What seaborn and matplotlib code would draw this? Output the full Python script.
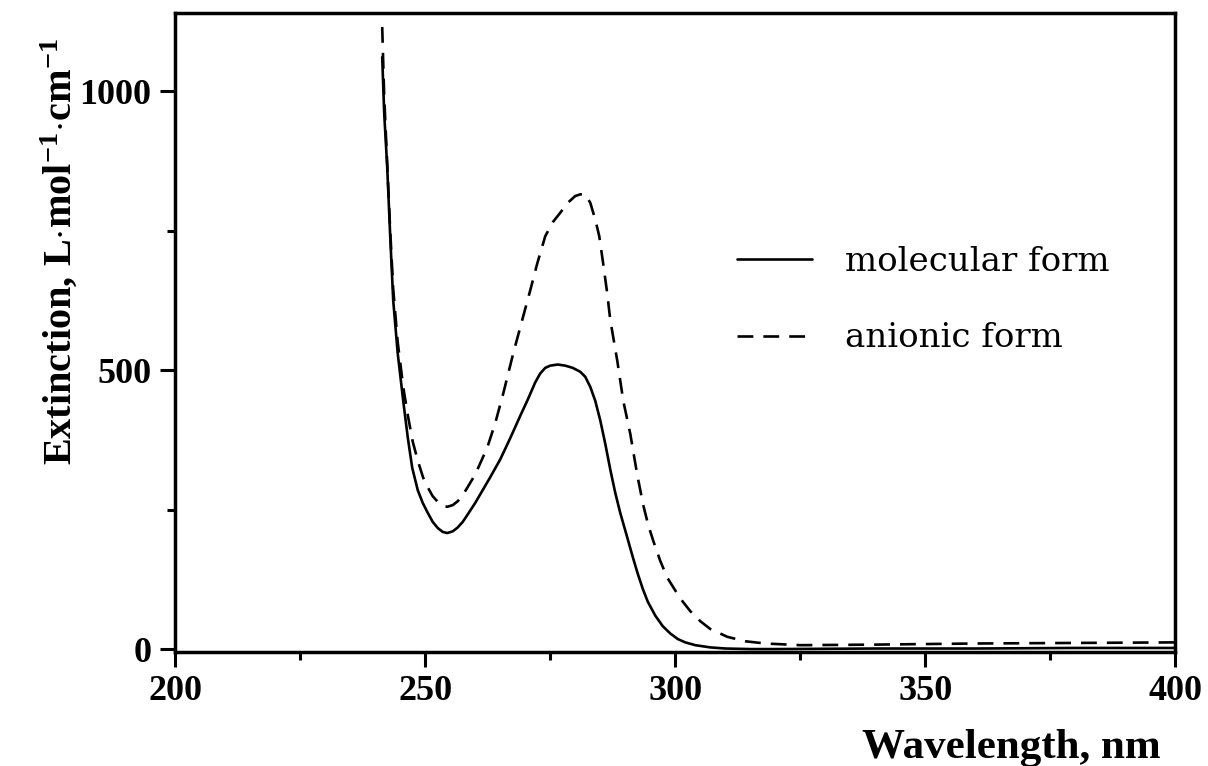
import matplotlib
matplotlib.use("Agg")
import matplotlib.pyplot as plt
from matplotlib.ticker import MultipleLocator
import seaborn as sns

# molecular form (solid)
wl_mol = [241.4, 241.8, 242.4, 243.0, 243.6, 244.5, 245.6, 246.5, 247.4, 248.5,
          249.5, 250.4, 251.5, 252.5, 253.5, 254.4, 255.5, 256.5, 257.5, 258.4,
          260.0, 261.5, 263.0, 265.0, 267.0, 269.0, 270.5, 272.0, 273.0, 274.0,
          275.0, 276.5, 278.0, 279.5, 281.0, 282.0, 283.0, 284.0, 285.0, 286.0,
          287.0, 288.0, 289.0, 290.4, 291.5, 292.5, 293.5, 294.5, 296.0, 297.5,
          299.0, 300.5, 302.0, 304.0, 307.0, 310.0, 315.0, 320.0, 340.0, 360.0,
          380.0, 400.0]
ext_mol = [1061, 960, 864, 740, 625, 530, 445, 380, 325, 285,
           262, 246, 228, 217, 210, 208, 211, 218, 228, 240,
           262, 285, 308, 340, 378, 418, 447, 478, 494, 504,
           508, 510, 508, 504, 497, 488, 470, 445, 410, 368,
           322, 280, 244, 200, 165, 135, 108, 85, 60, 41,
           28, 18, 12, 7, 3, 1, 0, 0, 1, 1,
           2, 2]

# anionic form (dashed)
wl_an = [241.4, 241.8, 242.4, 243.0, 243.6, 244.5, 245.6, 246.5, 247.5, 248.5,
         249.6, 250.5, 251.5, 252.5, 253.5, 254.4, 255.5, 256.5, 257.5, 258.4,
         260.0, 261.5, 262.4, 264.0, 265.6, 267.6, 269.4, 271.0, 272.4, 274.0,
         275.5, 277.0, 278.4, 280.0, 281.0, 282.0, 283.0, 284.0, 284.8, 285.6,
         286.4, 287.0, 288.4, 289.6, 291.0, 292.4, 293.6, 294.6, 295.6, 297.0,
         298.4, 300.0, 301.5, 303.0, 305.0, 307.0, 310.4, 314.0, 318.0, 325.0,
         340.0, 360.0, 380.0, 400.0]
ext_an = [1115, 990, 870, 750, 645, 550, 470, 420, 372, 338,
          307, 290, 274, 264, 257, 255, 258, 265, 276, 289,
          313, 343, 361, 405, 458, 530, 590, 643, 691, 740,
          765, 782, 799, 812, 815, 815, 800, 770, 740, 690,
          637, 590, 517, 445, 386, 312, 258, 222, 194, 158,
          128, 105, 85, 68, 50, 36, 22, 14, 10, 7,
          8, 10, 11, 12]

sns.set_style("ticks")
plt.rcParams['font.family'] = ['Liberation Serif', 'DejaVu Serif']
plt.rcParams['mathtext.fontset'] = 'custom'
plt.rcParams['mathtext.rm'] = 'Liberation Serif:bold'
plt.rcParams['mathtext.it'] = 'Liberation Serif:bold'
plt.rcParams['mathtext.bf'] = 'Liberation Serif:bold'
for k in ['text.color', 'axes.edgecolor', 'axes.labelcolor', 'xtick.color', 'ytick.color']:
    plt.rcParams[k] = 'black'

fig, ax = plt.subplots(figsize=(12.08, 7.66), dpi=100)
fig.subplots_adjust(left=0.145, right=0.973, bottom=0.149, top=0.983)

sns.lineplot(x=wl_mol, y=ext_mol, ax=ax, color='black', lw=1.9, label='molecular form')
sns.lineplot(x=wl_an, y=ext_an, ax=ax, color='black', lw=1.9, label='anionic form',
             linestyle=(0, (6, 3.8)))

ax.set_xlim(200, 400)
ax.set_ylim(-5, 1140)
ax.xaxis.set_major_locator(MultipleLocator(50))
ax.xaxis.set_minor_locator(MultipleLocator(25))
ax.yaxis.set_major_locator(MultipleLocator(500))
ax.yaxis.set_minor_locator(MultipleLocator(250))

for s in ax.spines.values():
    s.set_linewidth(2.5)
    s.set_visible(True)
ax.tick_params(which='major', direction='out', length=11, width=2.2, pad=6)
ax.tick_params(which='minor', direction='out', length=6, width=2.2)
for lab in ax.get_xticklabels() + ax.get_yticklabels():
    lab.set_fontsize(26)
    lab.set_fontweight('bold')

ax.set_xlabel('Wavelength, nm', fontsize=31, fontweight='bold')
ax.xaxis.set_label_coords(0.836, -0.12)
ax.set_ylabel(r'Extinction, L$\cdot$mol$^{-1}$$\cdot$cm$^{-1}$', fontsize=29, fontweight='bold')
ax.yaxis.set_label_coords(-0.095, 0.626)

ax.legend(loc='upper left', bbox_to_anchor=(0.562, 0.636), frameon=False,
          prop={'family': 'DejaVu Serif', 'size': 24.5}, handlelength=2.2,
          handletextpad=0.97, labelspacing=1.32, borderpad=0, borderaxespad=0)

fig.savefig('out.png', dpi=100)
